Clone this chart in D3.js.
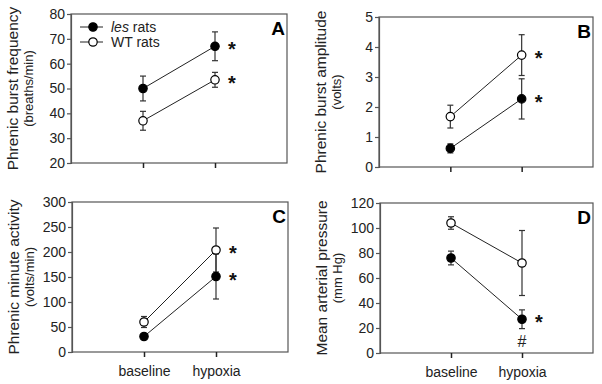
<!DOCTYPE html>
<html><head><meta charset="utf-8">
<script src="https://cdn.jsdelivr.net/npm/d3@7"></script>
<style>body{margin:0;background:#fff}svg{display:block}text{font-family:"Liberation Sans",Arial,sans-serif}</style>
</head><body><svg id="c" width="602" height="384"></svg>
<script>
const conditions = ["baseline", "hypoxia"];
const seriesNames = ["les rats", "WT rats"];
// Panel A: phrenic burst frequency
const freqLes = [50, 67], freqLesErr = [5, 5.8];
const freqWT = [37, 53.5], freqWTErr = [3.8, 3];
// Panel B: phrenic burst amplitude
const ampLes = [0.62, 2.27], ampLesErr = [0.15, 0.67];
const ampWT = [1.68, 3.73], ampWTErr = [0.38, 0.68];
// Panel C: phrenic minute activity
const minLes = [31, 151], minLesErr = [5, 45];
const minWT = [60, 204], minWTErr = [11, 44];
// Panel D: mean arterial pressure
const mapLes = [76, 27], mapLesErr = [5.5, 7.5];
const mapWT = [104, 72], mapWTErr = [5, 26];

const panels = [
  {letter:"A", title:"Phrenic burst frequency", unit:"(breaths/min)", domain:[20,80], ticks:[20,30,40,50,60,70,80],
   les:freqLes, lesErr:freqLesErr, wt:freqWT, wtErr:freqWTErr, box:[71,287,14,163], legend:true, xlabels:false,
   stars:[["les",1,"*"],["wt",1,"*"]]},
  {letter:"B", title:"Phrenic burst amplitude", unit:"(volts)", domain:[0,5], ticks:[0,1,2,3,4,5],
   les:ampLes, lesErr:ampLesErr, wt:ampWT, wtErr:ampWTErr, box:[379,593,17,167], xlabels:false,
   stars:[["les",1,"*"],["wt",1,"*"]]},
  {letter:"C", title:"Phrenic minute activity", unit:"(volts/min)", domain:[0,300], ticks:[0,50,100,150,200,250,300],
   les:minLes, lesErr:minLesErr, wt:minWT, wtErr:minWTErr, box:[72,288,202,352], xlabels:true,
   stars:[["les",1,"*"],["wt",1,"*"]]},
  {letter:"D", title:"Mean arterial pressure", unit:"(mm Hg)", domain:[0,120], ticks:[0,20,40,60,80,100,120],
   les:mapLes, lesErr:mapLesErr, wt:mapWT, wtErr:mapWTErr, box:[380,593,203,353], xlabels:true,
   stars:[["les",1,"*"]], hash:true}
];

const svg = d3.select("#c");
const axisColor = "#555";

panels.forEach(p => {
  const [L,R,T,B] = p.box;
  const x = d3.scalePoint().domain(["", ...conditions, " "]).range([L,R]);
  const y = d3.scaleLinear().domain(p.domain).range([B,T]);
  const g = svg.append("g");
  g.append("rect").attr("x",L).attr("y",T).attr("width",R-L).attr("height",B-T)
    .attr("fill","none").attr("stroke",axisColor).attr("stroke-width",1.2);
  const ya = g.append("g").attr("transform",`translate(${L},0)`)
    .call(d3.axisLeft(y).tickValues(p.ticks).tickFormat(d3.format("d")).tickSize(4).tickPadding(2));
  ya.select(".domain").attr("stroke",axisColor).attr("stroke-width",1.2);
  ya.selectAll(".tick line").attr("stroke",axisColor).attr("stroke-width",1.2);
  ya.selectAll("text").attr("font-size",14).attr("fill","#222").attr("font-family","Liberation Sans, Arial, sans-serif");
  const xa = g.append("g").attr("transform",`translate(0,${B})`)
    .call(d3.axisBottom(x).tickValues(conditions).tickSize(5).tickPadding(9));
  xa.select(".domain").remove();
  xa.selectAll(".tick line").attr("stroke","#222").attr("stroke-width",1.5);
  xa.selectAll("text").attr("font-size",14).attr("fill","#222").attr("font-family","Liberation Sans, Arial, sans-serif")
    .style("display", p.xlabels ? null : "none");
  const cy = (T+B)/2;
  g.append("text").attr("transform",`translate(${L-53},${cy}) rotate(-90)`).attr("text-anchor","middle")
    .attr("font-size",15.5).attr("fill","#222").text(p.title);
  g.append("text").attr("transform",`translate(${L-38},${cy}) rotate(-90)`).attr("text-anchor","middle")
    .attr("font-size",13).attr("fill","#222").text(p.unit);
  g.append("text").attr("x",R-2).attr("y",T+21).attr("text-anchor","end")
    .attr("font-size",19).attr("font-weight","bold").attr("fill","#000").text(p.letter);

  const series = [
    {key:"wt", vals:p.wt, err:p.wtErr, fill:"#fff"},
    {key:"les", vals:p.les, err:p.lesErr, fill:"#000"}
  ];
  const line = d3.line().x((d,i)=>x(conditions[i])).y(d=>y(d));
  series.forEach(s => {
    g.append("path").attr("d", line(s.vals)).attr("fill","none").attr("stroke","#222").attr("stroke-width",1);
  });
  series.forEach(s => {
    s.vals.forEach((v,i) => {
      const cx = x(conditions[i]);
      const e = s.err[i];
      g.append("line").attr("x1",cx).attr("x2",cx).attr("y1",y(v-e)).attr("y2",y(v+e)).attr("stroke","#333").attr("stroke-width",1.2);
      [v-e, v+e].forEach(w => g.append("line").attr("x1",cx-3).attr("x2",cx+3).attr("y1",y(w)).attr("y2",y(w)).attr("stroke","#333").attr("stroke-width",1.2));
    });
  });
  series.forEach(s => {
    s.vals.forEach((v,i) => {
      g.append("circle").attr("cx",x(conditions[i])).attr("cy",y(v)).attr("r",4.2)
        .attr("fill",s.fill).attr("stroke","#000").attr("stroke-width",1.2);
    });
  });
  p.stars.forEach(([k,i,ch]) => {
    const v = k==="les" ? p.les[i] : p.wt[i];
    g.append("text").attr("x",x(conditions[i])+13).attr("y",y(v)+10).attr("font-size",20).attr("font-weight","bold")
      .attr("fill","#111").text(ch);
  });
  if (p.hash) {
    g.append("text").attr("x",x(conditions[1])).attr("y",y(p.les[1]-p.lesErr[1])+18).attr("text-anchor","middle")
      .attr("font-size",16).attr("fill","#222").text("#");
  }
  if (p.legend) {
    const items = [{name:"les", fill:"#000"},{name:"WT rats", fill:"#fff"}];
    items.forEach((it,j) => {
      const ly = T + 13 + j*15;
      g.append("line").attr("x1",L+9).attr("x2",L+32).attr("y1",ly).attr("y2",ly).attr("stroke","#222").attr("stroke-width",1);
      g.append("circle").attr("cx",L+22).attr("cy",ly).attr("r",4.2).attr("fill",it.fill).attr("stroke","#000").attr("stroke-width",1.2);
      const t = g.append("text").attr("x",L+40).attr("y",ly+5).attr("font-size",14).attr("fill","#222");
      if (j===0) { t.append("tspan").attr("font-style","italic").text("les"); t.append("tspan").text(" rats"); }
      else t.text(it.name);
    });
  }
});
</script></body></html>
